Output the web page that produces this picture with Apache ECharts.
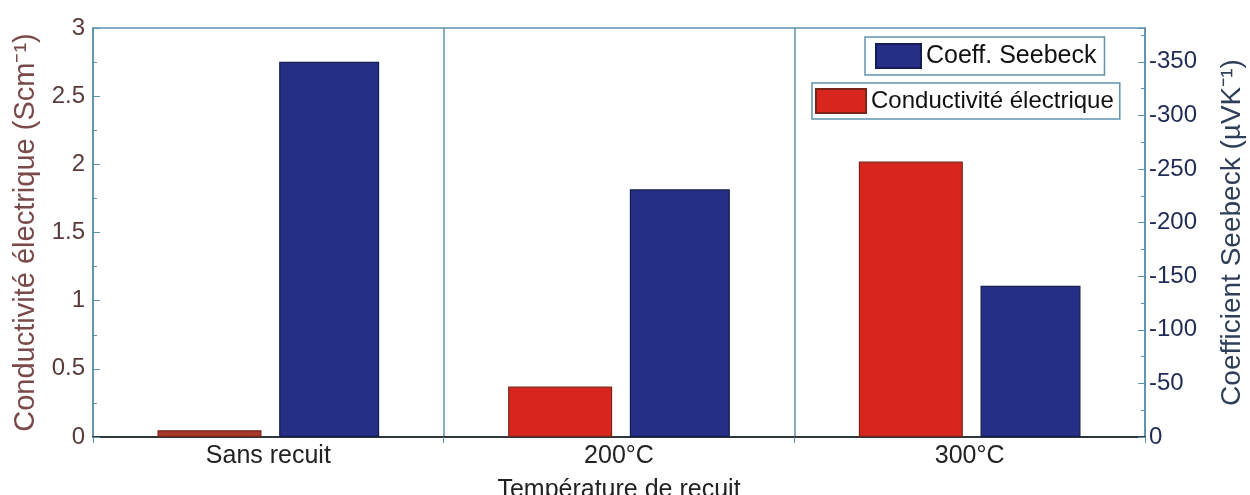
<!DOCTYPE html>
<html>
<head>
<meta charset="utf-8">
<script src="https://cdn.jsdelivr.net/npm/echarts@6/dist/echarts.min.js"></script>
<style>
html,body{margin:0;padding:0;background:#fff;}
#chart{width:1250px;height:495px;}
</style>
</head>
<body>
<div id="chart"></div>
<script>
const categories = ['Sans recuit', '200°C', '300°C'];
const conductivite = [0.05, 0.37, 2.02];
const seebeck = [-350, -231, -141];

const FONT = 'Liberation Sans';
const frameColor = '#5f93ad';

const chart = echarts.init(document.getElementById('chart'));
chart.setOption({
  backgroundColor: '#fff',
  animation: false,
  textStyle: { fontFamily: FONT },
  grid: { left: 93, right: 105, top: 28, bottom: 58, containLabel: false, outerBoundsMode: 'none',
          show: true, borderColor: frameColor, borderWidth: 1.5, backgroundColor: 'transparent' },
  legend: [
    {
      data: ['Coeff. Seebeck'], left: 865, top: 37, orient: 'vertical', icon: 'rect',
      itemWidth: 45, itemHeight: 24, itemGap: 6,
      padding: [6, 8, 6, 10], borderColor: frameColor, borderWidth: 1.5, backgroundColor: '#fff',
      textStyle: { fontSize: 25, color: '#111', fontFamily: FONT }
    },
    {
      data: ['Conductivité électrique'], left: 812, top: 83, orient: 'vertical', icon: 'rect',
      itemWidth: 50, itemHeight: 24, itemGap: 4,
      padding: [5, 6, 5, 3], borderColor: frameColor, borderWidth: 1.5, backgroundColor: '#fff',
      textStyle: { fontSize: 24, color: '#111', fontFamily: FONT }
    }
  ],
  xAxis: {
    type: 'category', data: categories,
    name: 'Température de recuit', nameLocation: 'middle', nameGap: 41,
    nameTextStyle: { fontSize: 25, color: '#222', fontFamily: FONT },
    axisLine: { lineStyle: { color: '#111', width: 1.5 } },
    axisTick: { show: true, length: 6, lineStyle: { color: frameColor } },
    axisLabel: { fontSize: 25, color: '#222', margin: 7, fontFamily: FONT },
    splitLine: { show: true, lineStyle: { color: frameColor, width: 1.5 } }
  },
  yAxis: [
    {
      type: 'value', min: 0, max: 3, interval: 0.5, position: 'left',
      name: 'Conductivité électrique (Scm⁻¹)', nameLocation: 'middle', nameGap: 45, nameRotate: 90,
      nameTextStyle: { fontSize: 29, color: '#7a4a4a', fontFamily: FONT },
      axisLine: { show: true, lineStyle: { color: frameColor, width: 1.5 } },
      axisTick: { show: true, inside: true, length: 7, lineStyle: { color: frameColor } },
      minorTick: { show: true, splitNumber: 2, length: 4, lineStyle: { color: frameColor } },
      axisLabel: { fontSize: 24, color: '#5a3a3a', margin: 8, fontFamily: FONT },
      splitLine: { show: false }
    },
    {
      type: 'value', min: -381.5, max: 0, inverse: true, splitNumber: 8, position: 'right',
      name: 'Coefficient Seebeck (µVK⁻¹)', nameLocation: 'middle', nameGap: 73, nameRotate: 90,
      nameTextStyle: { fontSize: 28, color: '#2f3f5a', fontFamily: FONT },
      axisLine: { show: true, lineStyle: { color: frameColor, width: 1.5 } },
      axisTick: { show: true, inside: true, length: 7, lineStyle: { color: frameColor } },
      minorTick: { show: true, splitNumber: 2, length: 4, lineStyle: { color: frameColor } },
      axisLabel: { fontSize: 24, color: '#1f2b55', margin: 4, showMinLabel: false, fontFamily: FONT },
      splitLine: { show: false }
    }
  ],
  series: [
    {
      name: 'Conductivité électrique', type: 'bar', yAxisIndex: 0,
      data: conductivite.map((v, i) => i === 0 ? { value: v, itemStyle: { color: '#a8392c' } } : v),
      barWidth: 104, barGap: '17%', barCategoryGap: '36%',
      itemStyle: { color: '#d8261f', borderColor: '#7a2418', borderWidth: 1.2 }
    },
    {
      name: 'Coeff. Seebeck', type: 'bar', yAxisIndex: 1, data: seebeck,
      barWidth: 100,
      itemStyle: { color: '#262f86', borderColor: '#161c4d', borderWidth: 1.2 }
    }
  ]
});
</script>
</body>
</html>
